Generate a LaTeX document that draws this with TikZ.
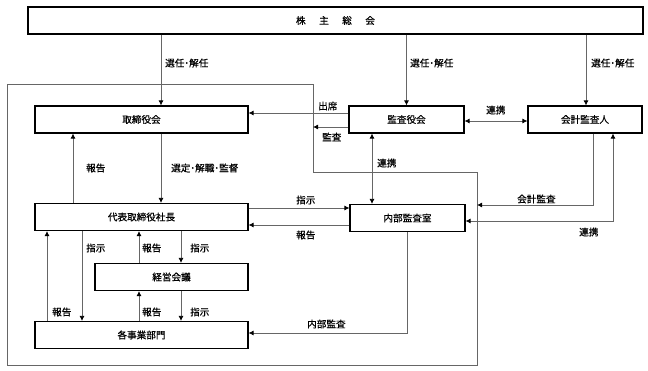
\documentclass[tikz,border=0pt]{standalone}
\usepackage{fontspec}
\newfontfamily\jp[FakeBold=0.6]{Noto Sans CJK JP}
\usetikzlibrary{arrows.meta}
\begin{document}
\begin{tikzpicture}[x=1pt,y=-1pt,
  font=\jp\fontsize{9.6}{11}\selectfont,
  box/.style={draw=black,line width=1.1pt,fill=white,minimum height=27pt,inner sep=0pt},
  conn/.style={draw=black!60,line width=0.8pt},
  arr/.style={conn,-{Latex[length=5pt,width=5pt,black]}},
  darr/.style={conn,{Latex[length=5pt,width=5pt,black]}-{Latex[length=5pt,width=5pt,black]}},
  lbl/.style={inner sep=0pt,text=black,anchor=west}]
\useasboundingbox (0,0) rectangle (648,371);
% company frame
\draw[conn] (7,84) -- (313,84) -- (313,172) -- (477,172) -- (477,365) -- (7,365) -- cycle;
% nodes
\node[box,minimum width=615pt] (sh) at (335.5,20.5) {株\hspace{13.5pt}主\hspace{13.5pt}総\hspace{13.5pt}会};
\node[box,minimum width=213pt] (board) at (141.5,119.5) {取締役会};
\node[box,minimum width=115pt] (kansa) at (406.5,119.5) {監査役会};
\node[box,minimum width=114pt] (kaikei) at (585,119.5) {会計監査人};
\node[box,minimum width=213pt] (pres) at (141.5,217) {代表取締役社長};
\node[box,minimum width=115pt] (naibu) at (407.5,218) {内部監査室};
\node[box,minimum width=153pt] (keiei) at (171.5,277) {経営会議};
\node[box,minimum width=213pt] (jigyo) at (141.5,335) {各事業部門};
% shareholders
\draw[arr] (161,0 |- sh.south) -- (161,0 |- board.north);
\node[lbl] (l1) at (165,63) {選任･解任};
\draw[arr] (kansa.north |- sh.south) -- (kansa.north);
\node[lbl] (l2) at (410,63) {選任･解任};
\draw[arr] (586,0 |- sh.south) -- (586,0 |- kaikei.north);
\node[lbl] (l3) at (591,63) {選任･解任};
% audit board
\draw[arr] (kansa.west |- 0,113) -- (board.east |- 0,113);
\node[lbl] (l4) at (318,106) {出席};
\coordinate (fr) at (313,127);
\draw[arr] (kansa.west |- fr) -- (fr);
\node[lbl] (l5) at (322,137) {監査};
\draw[darr] (kansa.east |- 0,121) -- (kaikei.west |- 0,121);
\node[lbl] (l6) at (486,110) {連携};
\draw[darr] (372,0 |- kansa.south) -- (372,0 |- naibu.north);
\node[lbl] (l7) at (377,163) {連携};
% board <-> president
\draw[arr] (161,0 |- board.south) -- (161,0 |- pres.north);
\node[lbl] (l8) at (171,168) {選定･解職･監督};
\draw[arr] (73,0 |- pres.north) -- (73,0 |- board.south);
\node[lbl] (l9) at (86,168) {報告};
% president <-> internal audit
\draw[arr] (pres.east |- 0,208) -- (naibu.west |- 0,208);
\node[lbl] (l10) at (296,200) {指示};
\draw[arr] (naibu.west |- 0,225) -- (pres.east |- 0,225);
\node[lbl] (l11) at (296,235) {報告};
% accounting auditor
\coordinate (fr2) at (477,205);
\draw[arr] (593,0 |- kaikei.south) |- (fr2);
\node[lbl] (l12) at (517,199) {会計監査};
\draw[darr] (naibu.east |- 0,221) -| (613,0 |- kaikei.south);
\node[lbl] (l13) at (579,232) {連携};
% internal audit -> divisions
\draw[arr] (407,0 |- naibu.south) |- (jigyo.east |- 0,333);
\node[lbl] (l14) at (307,324) {内部監査};
% president / management meeting / divisions
\draw[arr] (82,0 |- pres.south) -- (82,0 |- jigyo.north);
\node[lbl] (l15) at (86,248) {指示};
\draw[arr] (47,0 |- jigyo.north) -- (47,0 |- pres.south);
\node[lbl] (l16) at (52,312) {報告};
\draw[arr] (139,0 |- keiei.north) -- (139,0 |- pres.south);
\node[lbl] (l17) at (142,248) {報告};
\draw[arr] (181,0 |- pres.south) -- (181,0 |- keiei.north);
\node[lbl] (l18) at (190,248) {指示};
\draw[arr] (139,0 |- jigyo.north) -- (139,0 |- keiei.south);
\node[lbl] (l19) at (142,312) {報告};
\draw[arr] (181,0 |- keiei.south) -- (181,0 |- jigyo.north);
\node[lbl] (l20) at (190,312) {指示};
\end{tikzpicture}
\end{document}
